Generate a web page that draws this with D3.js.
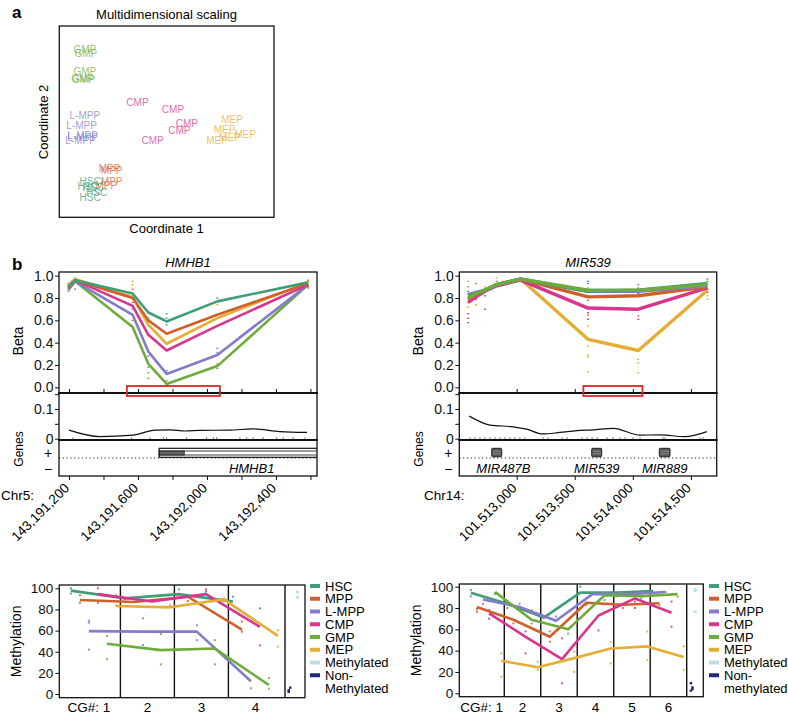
<!DOCTYPE html>
<html>
<head>
<meta charset="utf-8">
<script src="https://cdn.jsdelivr.net/npm/d3@7"></script>
<style>
  body { margin: 0; background: #fff; }
  svg text { font-family: "Liberation Sans", Arial, Helvetica, sans-serif; }
</style>
</head>
<body>
<svg id="fig" width="788" height="717"></svg>
<script>
// ---- shared series ----
const seriesNames = ['HSC', 'MPP', 'L-MPP', 'CMP', 'GMP', 'MEP']
const seriesColors = ['#3f9d78', '#d0602b', '#837bcb', '#d8358d', '#6eab3c', '#e5ad33']
const ctrlColors = ['#b9dcec', '#1f2a7a']

// ---- panel a: MDS ----
const mdsCells = ['GMP', 'GMP', 'GMP', 'GMP', 'GMP',
  'L-MPP', 'L-MPP', 'L-MPP', 'L-MPP', 'L-MPP',
  'CMP', 'CMP', 'CMP', 'CMP', 'CMP',
  'MEP', 'MEP', 'MEP', 'MEP', 'MEP',
  'MPP', 'MPP', 'MPP', 'MPP',
  'HSC', 'HSC', 'HSC', 'HSC', 'HSC']
const mdsC1 = [-0.76, -0.75, -0.76, -0.78, -0.77,
  -0.76, -0.79, -0.78, -0.78, -0.80,
  -0.27, 0.06, 0.19, 0.12, -0.13,
  0.61, 0.54, 0.47, 0.59, 0.73,
  -0.53, -0.51, -0.51, -0.56,
  -0.71, -0.73, -0.68, -0.65, -0.71]
const mdsC2 = [0.76, 0.72, 0.53, 0.46, 0.44,
  0.06, -0.04, -0.15, -0.17, -0.20,
  0.20, 0.13, -0.02, -0.10, -0.20,
  0.02, -0.08, -0.20, -0.17, -0.14,
  -0.50, -0.52, -0.63, -0.68,
  -0.64, -0.69, -0.70, -0.75, -0.80]

// ---- panel b, HMHB1 region (chr5) ----
const hmhb1Pos = [143191196, 143191235, 143191569, 143191660, 143191766, 143192060, 143192587]
const hmhb1Beta = [
  [0.90, 0.96, 0.84, 0.67, 0.59, 0.77, 0.94],   // HSC
  [0.90, 0.96, 0.80, 0.60, 0.48, 0.65, 0.93],   // MPP
  [0.88, 0.95, 0.65, 0.32, 0.12, 0.29, 0.92],   // L-MPP
  [0.89, 0.96, 0.73, 0.47, 0.33, 0.55, 0.92],   // CMP
  [0.87, 0.95, 0.54, 0.21, 0.03, 0.19, 0.92],   // GMP
  [0.92, 0.97, 0.81, 0.56, 0.39, 0.62, 0.94]    // MEP
]
const hmhb1Dots = [[0, 1, 0.93], [0, 2, 0.86], [0, 3, 0.91], [1, 0, 0.97], [1, 5, 0.98], [1, 2, 0.88],
  [2, 5, 0.95], [2, 5, 0.92], [2, 1, 0.88], [2, 3, 0.76], [2, 2, 0.70], [2, 4, 0.60],
  [3, 4, 0.08], [3, 4, 0.13], [3, 4, 0.18], [3, 2, 0.28], [3, 0, 0.62],
  [4, 0, 0.66], [4, 0, 0.62], [4, 2, 0.56], [4, 4, 0.06], [4, 2, 0.15], [4, 4, 0.01],
  [5, 0, 0.80], [5, 5, 0.74], [5, 2, 0.35], [5, 2, 0.31], [5, 4, 0.17], [5, 4, 0.21],
  [6, 0, 0.96], [6, 5, 0.95], [6, 1, 0.90], [6, 4, 0.89]]
const hmhb1CovPos = [143191200, 143191380, 143191571, 143191699, 143191786, 143191872, 143191959, 143192133, 143192267, 143192423, 143192580]
const hmhb1Cov = [0.029, 0.007, 0.012, 0.029, 0.030, 0.026, 0.028, 0.029, 0.033, 0.024, 0.021]
const hmhb1Rug = [143191223, 143191563, 143191670, 143191747, 143191766, 143191882, 143191998, 143192037, 143192056,
  143192191, 143192230, 143192268, 143192326, 143192404, 143192442, 143192500, 143192568]
const hmhb1Genes = [{ name: 'HMHB1', start: 143191723, end: 143192795, cdsEnd: 143191868 }]
const hmhb1Box = [143191536, 143192075]
const hmhb1Ticks = [143191200, 143191400, 143191600, 143191800, 143192000, 143192200, 143192400, 143192600]
const hmhb1Labels = [143191200, 143191600, 143192000, 143192400]

// ---- panel b, MIR539 region (chr14) ----
const mir539Pos = [101512583, 101512649, 101512727, 101512828, 101513034, 101513614, 101514047, 101514642]
const mir539Beta = [
  [0.82, 0.84, 0.87, 0.92, 0.97, 0.86, 0.87, 0.93],   // HSC
  [0.79, 0.83, 0.87, 0.92, 0.97, 0.81, 0.82, 0.90],   // MPP
  [0.83, 0.85, 0.87, 0.92, 0.97, 0.86, 0.86, 0.91],   // L-MPP
  [0.76, 0.81, 0.86, 0.91, 0.96, 0.71, 0.70, 0.89],   // CMP
  [0.80, 0.84, 0.87, 0.92, 0.97, 0.87, 0.87, 0.92],   // GMP
  [0.78, 0.83, 0.87, 0.92, 0.97, 0.43, 0.33, 0.87]    // MEP
]
const mir539Dots = [[0, 0, 0.86], [0, 1, 0.80], [0, 3, 0.66], [0, 3, 0.62], [0, 3, 0.58], [0, 5, 0.95], [0, 4, 0.90],
  [0, 2, 0.84], [0, 5, 0.72], [0, 1, 0.76], [1, 4, 0.93], [1, 3, 0.79], [1, 5, 0.74], [1, 1, 0.86],
  [2, 3, 0.70], [2, 0, 0.82], [2, 5, 0.90], [3, 5, 0.98], [3, 4, 0.95], [4, 0, 0.98],
  [5, 5, 0.29], [5, 5, 0.14], [5, 5, 0.37], [5, 5, 0.55], [5, 3, 0.61], [5, 3, 0.65], [5, 5, 0.65],
  [5, 1, 0.78], [5, 0, 0.95], [5, 2, 0.93], [5, 4, 0.89], [5, 3, 0.67], [5, 5, 0.27],
  [6, 5, 0.13], [6, 5, 0.22], [6, 5, 0.25], [6, 3, 0.64], [6, 3, 0.61], [6, 0, 0.92], [6, 1, 0.84], [6, 4, 0.89],
  [7, 5, 0.79], [7, 5, 0.82], [7, 0, 0.97], [7, 4, 0.95], [7, 1, 0.88], [7, 3, 0.85]]
const mir539CovPos = [101512592, 101512770, 101512968, 101513086, 101513224, 101513373, 101513517, 101513657,
  101513832, 101514062, 101514234, 101514450, 101514637]
const mir539Cov = [0.076, 0.046, 0.040, 0.032, 0.016, 0.021, 0.027, 0.030, 0.035, 0.012, 0.013, 0.007, 0.024]
const mir539Rug = [101512598, 101512641, 101512684, 101512727, 101512770, 101512813, 101512856, 101512899, 101512942,
  101512985, 101513028, 101513071, 101513227, 101513270, 101513390, 101513433, 101513562, 101513606, 101513649,
  101513692, 101513778, 101513829, 101513890, 101513933, 101514002, 101514062, 101514260, 101514277, 101514579, 101514605]
const mir539Genes = [
  { name: 'MIR487B', start: 101512785, end: 101512871 },
  { name: 'MIR539', start: 101513646, end: 101513732 },
  { name: 'MIR889', start: 101514228, end: 101514320 }
]
const mir539Box = [101513574, 101514083]
const mir539Ticks = [101513000, 101513500, 101514000, 101514500]

// ---- bisulfite methylation (bottom) ----
const leftCG = ['1', '2', '3', '4']
const leftMeth = [
  [97.8, 90.5, 94.5, 87.4],   // HSC
  [89, 87, 92, 61],           // MPP
  [59.5, 59, 59, 12],         // L-MPP
  [94.5, 87.5, 94.5, 63.5],   // CMP
  [47.5, 41.5, 43, 8.5],      // GMP
  [83.3, 82, 89.5, 55]        // MEP
]
const leftSamples = [[0, 0, 100], [0, 0, 95], [0, 1, 93.5], [0, 1, 86.4], [0, 2, 69.4], [0, 2, 67.5], [0, 2, 42],
  [0, 3, 100], [0, 3, 86.4], [0, 4, 55], [0, 4, 33], [0, 5, 84], [0, 5, 94],
  [1, 0, 90], [1, 2, 71.6], [1, 2, 46.4], [1, 4, 56.8], [1, 4, 28], [1, 3, 88], [1, 5, 84],
  [2, 0, 99], [2, 1, 88], [2, 2, 65], [2, 2, 51], [2, 3, 99], [2, 3, 97], [2, 4, 51], [2, 4, 28], [2, 5, 90.5],
  [3, 0, 92], [3, 1, 68.5], [3, 1, 59], [3, 2, 5.4], [3, 3, 81], [3, 3, 46], [3, 4, 15], [3, 4, 5],
  [3, 5, 60.5], [3, 5, 44.8]]
const leftMethylated = [96.5, 91.5]
const leftUnmethylated = [3.5, 6, 2]

const rightCG = ['1', '2', '3', '4', '5', '6']
const rightMeth = [
  [94.4, 84, 71, 94.4, 94.4, 96],   // HSC
  [81, 69, 53, 85, 83, 84.5],       // MPP
  [88, 81, 68, 93, 93, 95],         // L-MPP
  [75, 53, 32, 73, 89, 75.5],       // CMP
  [95, 69, 60, 92, 91, 93],         // GMP
  [30.5, 24.5, 33, 42, 44, 34]      // MEP
]
const rightSamples = [[0, 0, 97], [0, 0, 91], [0, 1, 76.5], [0, 1, 79], [0, 2, 84], [0, 3, 70], [0, 3, 78],
  [0, 4, 94], [0, 4, 93], [0, 5, 37.5], [0, 5, 15.6],
  [1, 0, 80], [1, 1, 65.6], [1, 2, 84], [1, 3, 37.5], [1, 3, 58], [1, 4, 78], [1, 4, 65.6], [1, 5, 29.7], [1, 5, 22],
  [2, 0, 72], [2, 1, 48.4], [2, 1, 58], [2, 2, 72], [2, 3, 9.4], [2, 3, 51.6], [2, 4, 56], [2, 5, 20], [2, 5, 39],
  [3, 0, 100], [3, 1, 83], [3, 2, 94], [3, 3, 59], [3, 4, 87.5], [3, 5, 48], [3, 5, 28],
  [4, 0, 91], [4, 1, 80], [4, 2, 95], [4, 3, 86], [4, 3, 80], [4, 4, 89], [4, 5, 58], [4, 5, 31],
  [5, 0, 94], [5, 1, 83], [5, 2, 95], [5, 3, 62.5], [5, 3, 86], [5, 4, 90.6], [5, 5, 44], [5, 5, 22]]
const rightMethylated = [97.5, 96, 76.5]
const rightUnmethylated = [9.5, 5.5, 2.5, 4]

const svg = d3.select('#fig')
const FONT = '"Liberation Sans", Arial, Helvetica, sans-serif'

// ================= panel a =================
{
  const x = d3.scaleLinear().domain([-1, 1]).range([59, 274])
  const y = d3.scaleLinear().domain([-1, 1]).range([216, 27])
  svg.append('text').attr('x', 12).attr('y', 18).attr('font-size', 17).attr('font-weight', 'bold').text('a')
  svg.append('text').attr('x', 166.5).attr('y', 19).attr('text-anchor', 'middle').attr('font-size', 13)
    .text('Multidimensional scaling')
  svg.append('rect').attr('x', 59.3).attr('y', 26).attr('width', 214.7).attr('height', 191.3)
    .attr('fill', 'none').attr('stroke', '#111').attr('stroke-width', 1.3)
  svg.append('text').attr('transform', 'translate(48,122) rotate(-90)').attr('text-anchor', 'middle')
    .attr('font-size', 13).text('Coordinate 2')
  svg.append('text').attr('x', 166.5).attr('y', 233).attr('text-anchor', 'middle').attr('font-size', 13)
    .text('Coordinate 1')
  svg.append('g').selectAll('text').data(mdsCells).join('text')
    .attr('x', (d, i) => x(mdsC1[i])).attr('y', (d, i) => y(mdsC2[i]))
    .attr('text-anchor', 'middle').attr('dominant-baseline', 'central')
    .attr('font-size', 10).attr('fill', d => seriesColors[seriesNames.indexOf(d)])
    .attr('fill-opacity', 0.75)
    .text(d => d)
}

svg.append('text').attr('x', 12).attr('y', 270).attr('font-size', 17).attr('font-weight', 'bold').text('b')

// ================= region panels =================
function drawRegion(o) {
  const top = 272, mid1 = 393, mid2 = 440, bot = 476
  const x = d3.scaleLinear().domain(o.domain).range([o.left, o.right])
  const yB = d3.scaleLinear().domain([0, 1]).range([387.3, 275.7])
  const yC = d3.scaleLinear().domain([0, 0.1]).range([438.7, 409])
  const g = svg.append('g')
  const clipId = 'clip-' + o.id
  svg.append('clipPath').attr('id', clipId).append('rect')
    .attr('x', o.left).attr('y', top).attr('width', o.right - o.left).attr('height', bot - top)

  g.append('text').attr('x', (o.left + o.right) / 2).attr('y', 267).attr('text-anchor', 'middle')
    .attr('font-size', 13).attr('font-style', 'italic').text(o.title)

  // sample dots
  g.append('g').selectAll('rect').data(o.dots).join('rect')
    .attr('x', d => x(o.pos[d[0]]) - 1).attr('y', d => yB(d[2]) - 0.6)
    .attr('width', 2).attr('height', 1.3)
    .attr('fill', d => seriesColors[d[1]])

  // mean lines
  const line = d3.line().x((d, i) => x(o.pos[i])).y(d => yB(d))
  o.order.forEach(s => {
    g.append('path').attr('d', line(o.beta[s])).attr('fill', 'none')
      .attr('stroke', seriesColors[s]).attr('stroke-width', o.lw).attr('stroke-linejoin', 'round')
  })

  // coverage line
  g.append('path')
    .attr('d', d3.line().curve(d3.curveMonotoneX).x((d, i) => x(o.covPos[i])).y(d => yC(d))(o.cov))
    .attr('fill', 'none').attr('stroke', '#111').attr('stroke-width', 1.2)

  // rug of probe positions
  g.append('g').selectAll('line').data(o.rug).join('line')
    .attr('x1', d => x(d)).attr('x2', d => x(d)).attr('y1', 437.2).attr('y2', 439)
    .attr('stroke', '#444').attr('stroke-width', 0.7)

  // genes
  const gg = g.append('g').attr('clip-path', `url(#${clipId})`)
  gg.append('line').attr('x1', o.left).attr('x2', o.right).attr('y1', 458).attr('y2', 458)
    .attr('stroke', '#222').attr('stroke-width', 1).attr('stroke-dasharray', '1.2,2.6')
  o.genes.forEach(gn => {
    const gx0 = x(gn.start), gx1 = x(gn.end)
    if (gn.cdsEnd) {
      gg.append('rect').attr('x', gx0).attr('y', 448.3).attr('width', gx1 - gx0).attr('height', 9)
        .attr('fill', '#fff').attr('stroke', '#111').attr('stroke-width', 1.2)
      gg.append('rect').attr('x', gx0).attr('y', 451).attr('width', gx1 - gx0).attr('height', 4)
        .attr('fill', '#fff').attr('stroke', '#111').attr('stroke-width', 0.8)
      gg.append('rect').attr('x', gx0).attr('y', 451).attr('width', x(gn.cdsEnd) - gx0).attr('height', 4)
        .attr('fill', '#666').attr('stroke', '#111').attr('stroke-width', 0.8)
    } else {
      gg.append('rect').attr('x', gx0).attr('y', 448.3).attr('width', gx1 - gx0).attr('height', 8.5)
        .attr('fill', '#555').attr('stroke', '#222').attr('stroke-width', 1).attr('rx', 1)
      ;[451.2, 453.8].forEach(yy => gg.append('line').attr('x1', gx0 + 1).attr('x2', gx1 - 1)
        .attr('y1', yy).attr('y2', yy).attr('stroke', '#aaa').attr('stroke-width', 0.7))
    }
    const t = g.append('text').attr('y', 473).attr('text-anchor', 'middle')
      .attr('font-size', 13).attr('font-style', 'italic').text(gn.name)
    const w = t.node().getComputedTextLength()
    const cx = Math.max((gx0 + gx1) / 2, o.left + 17 + w / 2)
    t.attr('x', cx)
  })

  // frames
  g.append('rect').attr('x', o.left).attr('y', top).attr('width', o.right - o.left).attr('height', bot - top)
    .attr('fill', 'none').attr('stroke', '#111').attr('stroke-width', 1.3)
  ;[mid1, mid2].forEach(yy => g.append('line').attr('x1', o.left - 1).attr('x2', o.right + 1)
    .attr('y1', yy).attr('y2', yy).attr('stroke', '#111').attr('stroke-width', 2.2))

  // red box
  g.append('rect').attr('x', x(o.box[0])).attr('y', 386).attr('width', x(o.box[1]) - x(o.box[0]))
    .attr('height', 10).attr('fill', 'none').attr('stroke', '#e3262b').attr('stroke-width', 1.8)

  // y axes
  const styleAxis = size => sel => {
    sel.select('.domain').remove()
    sel.selectAll('.tick line').attr('stroke', '#111')
    sel.selectAll('.tick text').attr('font-size', size).attr('fill', '#111').attr('font-family', FONT)
  }
  g.append('g').attr('transform', `translate(${o.left},0)`)
    .call(d3.axisLeft(yB).tickValues([0, 0.2, 0.4, 0.6, 0.8, 1]).tickFormat(d3.format('.1f')).tickSize(4).tickPadding(1.5))
    .call(styleAxis(14))
  g.append('g').attr('transform', `translate(${o.left},0)`)
    .call(d3.axisLeft(yC).tickValues([0, 0.05, 0.1, 0.15])
      .tickFormat(d => d === 0 ? '0' : (Math.abs(d - 0.1) < 1e-9 ? '0.1' : '')).tickSize(4).tickPadding(1.5))
    .call(styleAxis(14))
  g.append('text').attr('x', o.left - 11).attr('y', 457.5).attr('text-anchor', 'middle').attr('font-size', 14).text('+')
  g.append('text').attr('x', o.left - 11).attr('y', 473.5).attr('text-anchor', 'middle').attr('font-size', 14).text('\u2212')
  g.append('text').attr('transform', `translate(${o.left - 36},341) rotate(-90)`).attr('text-anchor', 'middle')
    .attr('font-size', 14).text('Beta')
  g.append('text').attr('transform', `translate(${o.left - 36},449) rotate(-90)`).attr('text-anchor', 'middle')
    .attr('font-size', 12).text('Genes')

  // x ticks
  g.append('g').attr('transform', `translate(0,${mid1})`)
    .call(d3.axisTop(x).tickValues(o.ticks).tickFormat('').tickSize(4))
    .call(sel => { sel.select('.domain').remove(); sel.selectAll('.tick line').attr('stroke', '#111') })
  g.append('g').attr('transform', `translate(0,${bot})`)
    .call(d3.axisBottom(x).tickValues(o.ticks).tickFormat('').tickSize(4))
    .call(sel => { sel.select('.domain').remove(); sel.selectAll('.tick line').attr('stroke', '#111') })
  g.append('g').selectAll('text').data(o.labels).join('text')
    .attr('transform', d => `translate(${x(d) + 1},489) rotate(-45)`)
    .attr('text-anchor', 'end').attr('font-size', 13.5).text(d => d3.format(',')(d))
  g.append('text').attr('x', o.chrX).attr('y', 500).attr('font-size', 13.5).text(o.chr)
}

drawRegion({
  id: 'hmhb1', title: 'HMHB1', left: 59, right: 317, domain: [143191142, 143192638],
  pos: hmhb1Pos, beta: hmhb1Beta, dots: hmhb1Dots, covPos: hmhb1CovPos, cov: hmhb1Cov, rug: hmhb1Rug,
  genes: hmhb1Genes, box: hmhb1Box, ticks: hmhb1Ticks, labels: hmhb1Labels,
  chr: 'Chr5:', chrX: 1, lw: 2.6, order: [4, 2, 3, 5, 1, 0]
})
drawRegion({
  id: 'mir539', title: 'MIR539', left: 459.3, right: 716.7, domain: [101512506, 101514722],
  pos: mir539Pos, beta: mir539Beta, dots: mir539Dots, covPos: mir539CovPos, cov: mir539Cov, rug: mir539Rug,
  genes: mir539Genes, box: mir539Box, ticks: mir539Ticks, labels: mir539Ticks,
  chr: 'Chr14:', chrX: 424, lw: 3.4, order: [5, 3, 1, 2, 0, 4]
})

// ================= methylation panels =================
function drawMeth(o) {
  const n = o.cg.length
  const x = d3.scaleLinear().domain([0, n]).range([o.u0, o.u1])
  const y = d3.scaleLinear().domain([0, 100]).range([o.y0, o.y100])
  const slot = (c, s) => x(c + (s + 0.5) / 6)
  const g = svg.append('g')

  // separators
  g.append('g').selectAll('line').data(d3.range(1, n + 1)).join('line')
    .attr('x1', d => d === n ? o.ctrlX : x(d)).attr('x2', d => d === n ? o.ctrlX : x(d))
    .attr('y1', o.top).attr('y2', o.bottom).attr('stroke', '#111').attr('stroke-width', 1.4)

  // samples
  g.append('g').selectAll('rect').data(o.samples).join('rect')
    .attr('x', d => slot(d[0], d[1]) - 1).attr('y', d => y(d[2]) - 1).attr('width', 2).attr('height', 2)
    .attr('fill', d => seriesColors[d[1]]).attr('fill-opacity', 0.85)

  // means
  const line = d3.line()
  o.meth.forEach((vals, s) => {
    g.append('path').attr('d', line(vals.map((v, c) => [slot(c, s), y(v)])))
      .attr('fill', 'none').attr('stroke', seriesColors[s]).attr('stroke-width', 2.6)
      .attr('stroke-linejoin', 'round')
  })

  // controls
  g.append('g').selectAll('rect').data(o.methylated).join('rect')
    .attr('x', o.ctrlX + o.mx).attr('y', d => y(d) - 1.2).attr('width', 3).attr('height', 2.4).attr('fill', ctrlColors[0])
  g.append('g').selectAll('rect').data(o.unmethylated).join('rect')
    .attr('x', (d, i) => o.ctrlX + o.ux + (i % 2) * 1.5).attr('y', d => y(d) - 1.2).attr('width', 2.5).attr('height', 2.4)
    .attr('fill', ctrlColors[1])

  // frame
  g.append('rect').attr('x', o.left).attr('y', o.top).attr('width', o.right - o.left).attr('height', o.bottom - o.top)
    .attr('fill', 'none').attr('stroke', '#111').attr('stroke-width', 1.3)

  // y axis
  g.append('g').attr('transform', `translate(${o.left},0)`)
    .call(d3.axisLeft(y).tickValues([0, 20, 40, 60, 80, 100]).tickSize(4).tickPadding(2))
    .call(sel => {
      sel.select('.domain').remove()
      sel.selectAll('.tick line').attr('stroke', '#111')
      sel.selectAll('.tick text').attr('font-size', 13.5).attr('fill', '#111').attr('font-family', FONT)
    })
  g.append('text').attr('transform', `translate(${o.left - 38},${(o.top + o.bottom) / 2}) rotate(-90)`)
    .attr('text-anchor', 'middle').attr('font-size', 14).text('Methylation')

  // CG labels
  g.append('g').selectAll('text').data(o.cg).join('text')
    .attr('x', (d, i) => i === 0 ? x(0.5) + 17 : x(i + 0.5))
    .attr('y', 712).attr('text-anchor', (d, i) => i === 0 ? 'end' : 'middle').attr('font-size', 13.5)
    .text((d, i) => i === 0 ? 'CG#: ' + d : d)

  // legend
  const entries = seriesNames.map((nm, i) => ({ lines: [nm], color: seriesColors[i] }))
    .concat([{ lines: ['Methylated'], color: ctrlColors[0] }, { lines: o.nonLabel, color: ctrlColors[1] }])
  let row = 0
  entries.forEach(e => {
    const yy = 586 + row * 12.75
    g.append('line').attr('x1', o.legX).attr('x2', o.legX + 10).attr('y1', yy).attr('y2', yy)
      .attr('stroke', e.color).attr('stroke-width', 4)
    e.lines.forEach((t, k) => {
      g.append('text').attr('x', o.legX + 15).attr('y', yy + k * 12.75).attr('dy', '0.35em')
        .attr('font-size', 13).text(t)
    })
    row += e.lines.length
  })
}

drawMeth({
  cg: leftCG, meth: leftMeth, samples: leftSamples, methylated: leftMethylated, unmethylated: leftUnmethylated,
  left: 59.3, right: 305, top: 585, bottom: 697.7, y0: 694, y100: 588.3, u0: 66.4, u1: 282.4, ctrlX: 285,
  mx: 11, ux: 2.5, legX: 310, nonLabel: ['Non-', 'Methylated']
})
drawMeth({
  cg: rightCG, meth: rightMeth, samples: rightSamples, methylated: rightMethylated, unmethylated: rightUnmethylated,
  left: 459.3, right: 703.3, top: 584, bottom: 696.7, y0: 693.3, y100: 586.7, u0: 467.8, u1: 686.7, ctrlX: 686.7,
  mx: 7, ux: 3, legX: 709, nonLabel: ['Non-', 'methylated']
})
</script>
</body>
</html>
